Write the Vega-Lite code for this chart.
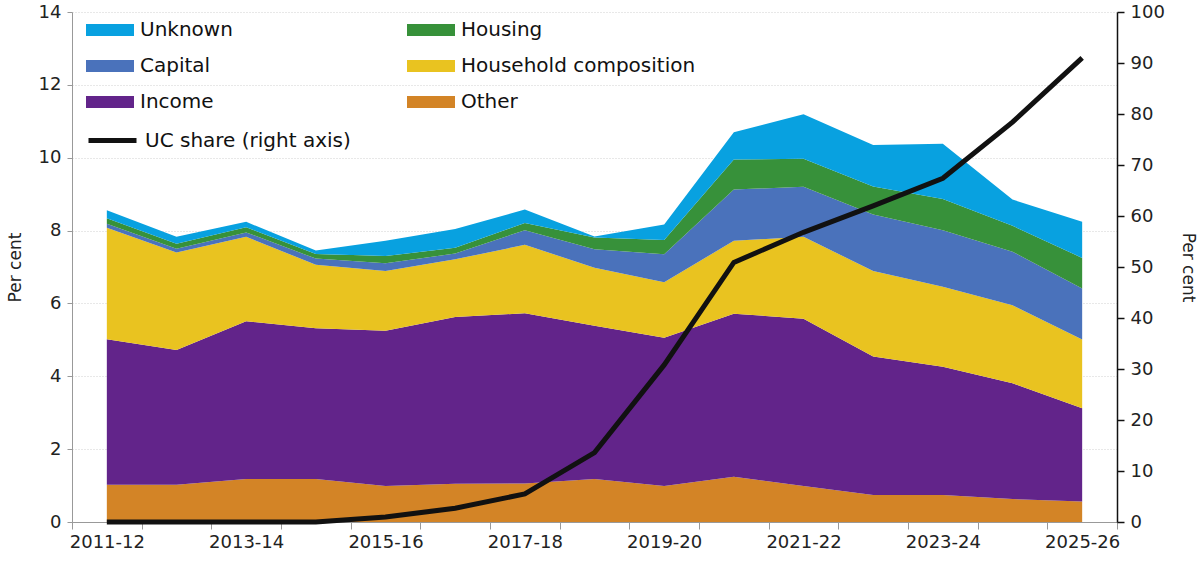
{
  "$schema": "https://vega.github.io/schema/vega-lite/v6.json",
  "width": 1045,
  "height": 510,
  "autosize": {"type": "none"},
  "padding": {"left": 72, "top": 12, "right": 83, "bottom": 39},
  "background": "white",
  "config": {
    "font": "DejaVu Sans",
    "view": {"stroke": null},
    "axis": {"labelColor": "#222", "titleColor": "#222", "labelFontWeight": "normal", "titleFontWeight": "normal"}
  },
  "data": {
    "values": [
      {"year": "2011-12", "Other": 1.02, "Income": 4.00, "Household composition": 3.06, "Capital": 0.11, "Housing": 0.15, "Unknown": 0.22, "uc": 0},
      {"year": "2012-13", "Other": 1.02, "Income": 3.70, "Household composition": 2.68, "Capital": 0.10, "Housing": 0.14, "Unknown": 0.19, "uc": 0},
      {"year": "2013-14", "Other": 1.18, "Income": 4.33, "Household composition": 2.32, "Capital": 0.12, "Housing": 0.14, "Unknown": 0.15, "uc": 0},
      {"year": "2014-15", "Other": 1.18, "Income": 4.14, "Household composition": 1.74, "Capital": 0.17, "Housing": 0.13, "Unknown": 0.09, "uc": 0},
      {"year": "2015-16", "Other": 0.99, "Income": 4.26, "Household composition": 1.64, "Capital": 0.21, "Housing": 0.20, "Unknown": 0.42, "uc": 1.0},
      {"year": "2016-17", "Other": 1.05, "Income": 4.58, "Household composition": 1.58, "Capital": 0.16, "Housing": 0.16, "Unknown": 0.51, "uc": 2.7},
      {"year": "2017-18", "Other": 1.06, "Income": 4.67, "Household composition": 1.88, "Capital": 0.40, "Housing": 0.20, "Unknown": 0.37, "uc": 5.5},
      {"year": "2018-19", "Other": 1.18, "Income": 4.21, "Household composition": 1.59, "Capital": 0.51, "Housing": 0.32, "Unknown": 0.03, "uc": 13.6},
      {"year": "2019-20", "Other": 0.99, "Income": 4.07, "Household composition": 1.52, "Capital": 0.77, "Housing": 0.39, "Unknown": 0.43, "uc": 30.8},
      {"year": "2020-21", "Other": 1.24, "Income": 4.48, "Household composition": 2.00, "Capital": 1.41, "Housing": 0.82, "Unknown": 0.75, "uc": 50.9},
      {"year": "2021-22", "Other": 0.99, "Income": 4.59, "Household composition": 2.25, "Capital": 1.37, "Housing": 0.77, "Unknown": 1.22, "uc": 56.8},
      {"year": "2022-23", "Other": 0.74, "Income": 3.80, "Household composition": 2.35, "Capital": 1.55, "Housing": 0.77, "Unknown": 1.14, "uc": 62.0},
      {"year": "2023-24", "Other": 0.74, "Income": 3.52, "Household composition": 2.20, "Capital": 1.55, "Housing": 0.86, "Unknown": 1.51, "uc": 67.4},
      {"year": "2024-25", "Other": 0.63, "Income": 3.18, "Household composition": 2.14, "Capital": 1.47, "Housing": 0.71, "Unknown": 0.72, "uc": 78.4},
      {"year": "2025-26", "Other": 0.56, "Income": 2.56, "Household composition": 1.89, "Capital": 1.40, "Housing": 0.84, "Unknown": 0.99, "uc": 91.0}
    ]
  },
  "layer": [
    {
      "transform": [
        {"fold": ["Other", "Income", "Household composition", "Capital", "Housing", "Unknown"], "as": ["category", "value"]},
        {"calculate": "indexof(['Other', 'Income', 'Household composition', 'Capital', 'Housing', 'Unknown'], datum.category)", "as": "stackOrder"}
      ],
      "mark": {"type": "area", "interpolate": "linear"},
      "encoding": {
        "x": {
          "field": "year", "type": "ordinal", "bandPosition": 0.5,
          "scale": {"type": "band", "paddingInner": 0, "paddingOuter": 0},
          "axis": {
            "title": null, "tickBand": "extent", "grid": false,
            "labelExpr": "parseInt(substring(datum.value, 0, 4)) % 2 == 1 ? datum.value : ''",
            "labelAngle": 0, "labelFontSize": 18, "labelPadding": 4,
            "domainColor": "#999", "tickColor": "#999", "tickSize": 7
          }
        },
        "y": {
          "field": "value", "type": "quantitative", "stack": "zero",
          "scale": {"domain": [0, 14]},
          "axis": {
            "title": "Per cent", "titleFontSize": 17, "titlePadding": 14,
            "values": [0, 2, 4, 6, 8, 10, 12, 14],
            "labelFontSize": 18, "labelPadding": 6,
            "domainColor": "#999", "tickColor": "#999", "tickSize": 5,
            "grid": true, "gridColor": "#d0d0d0", "gridDash": [1, 2]
          }
        },
        "color": {
          "field": "category", "type": "nominal",
          "scale": {
            "domain": ["Unknown", "Housing", "Capital", "Household composition", "Income", "Other"],
            "range": ["#08A1E0", "#37913A", "#4A72BB", "#E9C320", "#62248A", "#D38426"]
          },
          "legend": {
            "title": null, "orient": "none", "legendX": 26, "legendY": 6,
            "direction": "horizontal", "columns": 2, "columnPadding": 174, "rowPadding": 14,
            "padding": 0, "offset": 0, "labelLimit": 400,
            "symbolType": "M-2,-0.5H2V0.5H-2Z", "symbolSize": 576, "symbolStrokeWidth": 0,
            "labelFontSize": 20, "labelOffset": 18, "labelColor": "#111"
          }
        },
        "order": {"field": "stackOrder", "type": "quantitative"}
      }
    },
    {
      "mark": {"type": "line", "strokeWidth": 5},
      "encoding": {
        "x": {"field": "year", "type": "ordinal", "bandPosition": 0.5},
        "y": {
          "field": "uc", "type": "quantitative",
          "scale": {"domain": [0, 100]},
          "axis": {
            "orient": "right", "title": "Per cent", "titleAngle": 90, "titleFontSize": 17, "titlePadding": 14,
            "values": [0, 10, 20, 30, 40, 50, 60, 70, 80, 90, 100],
            "labelFontSize": 18, "labelPadding": 6, "grid": false,
            "domainColor": "#111", "domainWidth": 1.5, "tickColor": "#111", "tickWidth": 1.5, "tickSize": 7
          }
        },
        "stroke": {
          "datum": "UC share (right axis)", "type": "nominal",
          "scale": {"range": ["#111111"]},
          "legend": {
            "title": null, "orient": "none", "legendX": 26, "legendY": 114,
            "padding": 0, "offset": 0, "labelLimit": 400,
            "symbolType": "M-2,0H2", "symbolSize": 576, "symbolStrokeWidth": 5,
            "labelFontSize": 20, "labelOffset": 18, "labelColor": "#111"
          }
        }
      }
    }
  ],
  "resolve": {"scale": {"y": "independent"}}
}
